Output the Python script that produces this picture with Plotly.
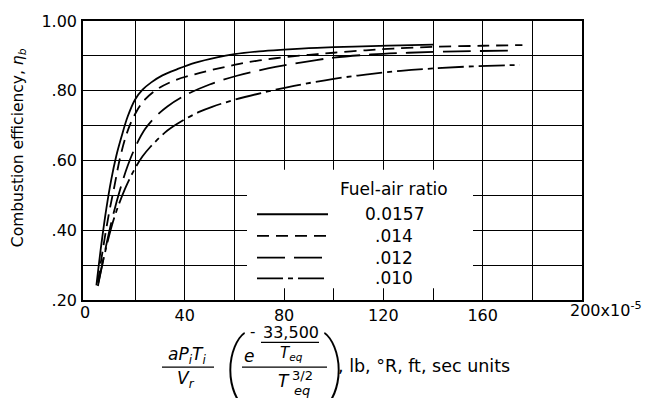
import plotly.graph_objects as go

# Combustion efficiency vs. correlating parameter, one curve per fuel-air ratio
fuel_air_labels = ["0.0157", ".014", ".012", ".010"]

x_0157 = [4.4, 6.4, 8.4, 10.4, 12.4, 14.5, 17, 20, 23, 26.5, 31, 37, 44, 53, 60, 70, 80, 90, 100, 115, 127, 140]
y_0157 = [0.242, 0.36, 0.462, 0.546, 0.613, 0.668, 0.726, 0.775, 0.803, 0.824, 0.844, 0.862, 0.880, 0.896, 0.905, 0.913, 0.918, 0.922, 0.925, 0.928, 0.930, 0.932]

x_014 = [5, 7, 9.5, 11.7, 14, 17, 20.5, 24, 29, 36, 44, 50, 56, 62, 70, 80, 90, 100, 113, 124, 140, 160, 176]
y_014 = [0.25, 0.345, 0.45, 0.528, 0.61, 0.685, 0.74, 0.775, 0.805, 0.83, 0.847, 0.858, 0.868, 0.877, 0.887, 0.896, 0.903, 0.909, 0.916, 0.921, 0.926, 0.929, 0.931]

x_012 = [5, 8, 11, 14.5, 17, 20.5, 24, 27.7, 33, 41, 50, 61, 73.5, 80, 93, 100, 115, 130, 150, 171]
y_012 = [0.24, 0.345, 0.44, 0.53, 0.585, 0.645, 0.69, 0.722, 0.755, 0.79, 0.818, 0.843, 0.864, 0.873, 0.888, 0.895, 0.904, 0.909, 0.913, 0.915]

x_010 = [5.2, 9, 12, 16, 20, 23, 26, 33, 38.5, 46, 51, 60, 73.5, 84, 100, 113.6, 127, 140, 156, 175]
y_010 = [0.25, 0.37, 0.445, 0.52, 0.578, 0.612, 0.638, 0.686, 0.712, 0.74, 0.754, 0.774, 0.798, 0.814, 0.834, 0.847, 0.857, 0.864, 0.870, 0.874]

series_x = [x_0157, x_014, x_012, x_010]
series_y = [y_0157, y_014, y_012, y_010]
dashes = ["solid", "12px,7px", "28px,9px", "26px,5px,5px,5px"]

# Axis ticks: labelled every other grid line
x_major = [40, 80, 120, 160]
x_major_text = ["40", "80", "120", "160"]
x_minor = [20, 60, 100, 140, 180]
y_major = [0.2, 0.4, 0.6, 0.8, 1.0]
y_major_text = [".20", ".40", ".60", ".80", "1.00"]
y_minor = [0.3, 0.5, 0.7, 0.9]

FONT = "DejaVu Sans"
W, H = 651, 398
L, R, T, B = 83, 69, 17, 98
PW, PH = W - L - R, H - T - B


def px(xp, yp):
    """Pixel position in the page -> paper coordinates."""
    return (xp - L) / PW, (H - B - yp) / PH


fig = go.Figure()
for xs, ys, dash in zip(series_x, series_y, dashes):
    fig.add_trace(go.Scatter(
        x=xs, y=ys, mode="lines",
        line=dict(color="black", width=1.8, dash=dash, shape="spline", smoothing=1.0),
        showlegend=False, hoverinfo="skip",
    ))

annotations = []
shapes = []


def text(xp, yp, s, size=15, xanchor="center", angle=0, family=FONT, weight=None):
    x, y = px(xp, yp)
    f = dict(family=family, size=size, color="black")
    if weight is not None:
        f["weight"] = weight
    annotations.append(dict(x=x, y=y, xref="paper", yref="paper", text=s, showarrow=False,
                            xanchor=xanchor, yanchor="middle", textangle=angle, font=f))


def hline(x0, x1, yp, width=1.3, dash="solid", layer="above"):
    a0, b = px(x0, yp)
    a1, _ = px(x1, yp)
    shapes.append(dict(type="line", xref="paper", yref="paper", x0=a0, x1=a1, y0=b, y1=b,
                       line=dict(color="black", width=width, dash=dash), layer=layer))


# End labels of the x scale
text(85, 313, "0", size=16)
text(568, 310, "200x10<sup>-5</sup>", size=16, xanchor="left")

# Legend panel (white box over the grid)
bx0, by0 = px(247, 168)
bx1, by1 = px(473, 288)
shapes.append(dict(type="rect", xref="paper", yref="paper", x0=bx0, x1=bx1, y0=by1, y1=by0,
                   fillcolor="white", line=dict(width=0), layer="above"))
text(394, 187, "Fuel-air ratio", size=17)
for lab, dash, yl in zip(fuel_air_labels, dashes, [213, 235, 257, 278]):
    hline(257, 328, yl, width=1.8, dash=dash)
    text(394, yl, lab, size=17)

# Y axis title
text(19, 146, "Combustion efficiency, <i>η<sub>b</sub></i>", size=15.5, angle=-90)

# X axis title: (a P_i T_i / V_r) (e^(-33,500/T_eq) / T_eq^(3/2)), lb, °R, ft, sec units
text(187, 356, "<i>aP<sub>i</sub>T<sub>i</sub></i>", size=17)
hline(162, 214, 368)
text(186, 381, "<i>V<sub>r</sub></i>", size=17)
text(235, 366, "(", size=74, family="Roboto", weight=100)
text(249, 357, "<i>e</i>", size=17)
text(257, 332, "-", size=15, xanchor="right")
text(291, 333, "33,500", size=16)
hline(261, 319, 343, width=1.1)
text(291, 354, "<i>T<sub>eq</sub></i>", size=15)
hline(242, 327, 368)
text(284, 382, "<i>T</i>", size=17)
text(302, 377, "3/2", size=13)
text(302, 392, "<i>eq</i>", size=13)
text(334, 366, ")", size=74, family="Roboto", weight=100)
text(336, 367, ", lb, °R, ft, sec units", size=17.5, xanchor="left")

axis_common = dict(
    showgrid=True, gridcolor="black", gridwidth=1.2,
    showline=True, linecolor="black", linewidth=1.5, mirror=True,
    ticks="", zeroline=False, fixedrange=True,
    tickfont=dict(family=FONT, size=16, color="black"),
)

fig.update_layout(
    width=W, height=H,
    margin=dict(l=L, r=R, t=T, b=B, pad=0),
    paper_bgcolor="white", plot_bgcolor="white",
    xaxis=dict(range=[-1, 200], tickmode="array", tickvals=x_major, ticktext=x_major_text,
               ticklabelstandoff=0,
               minor=dict(tickvals=x_minor, showgrid=True, gridcolor="black", gridwidth=1.2, ticks=""),
               **axis_common),
    yaxis=dict(range=[0.2, 1.0], tickmode="array", tickvals=y_major, ticktext=y_major_text,
               ticklabelstandoff=1,
               minor=dict(tickvals=y_minor, showgrid=True, gridcolor="black", gridwidth=1.2, ticks=""),
               **axis_common),
    annotations=annotations, shapes=shapes,
    showlegend=False,
)

fig.write_html("out.html")
